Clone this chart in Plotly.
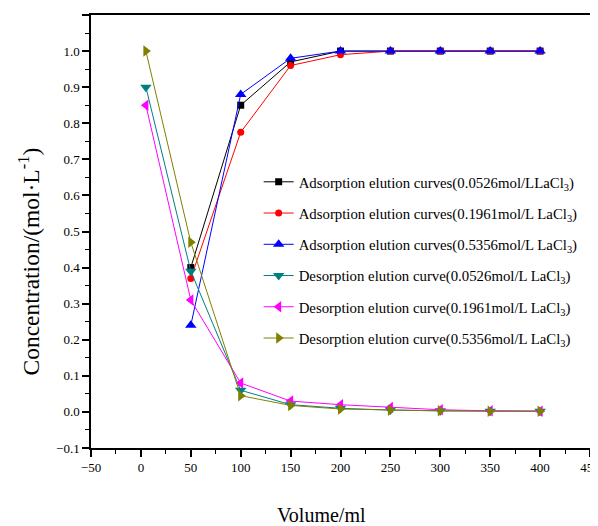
import plotly.graph_objects as go

ads_x = [50, 100, 150, 200, 250, 300, 350, 400]
ads_0526 = [0.40, 0.85, 0.97, 1.00, 1.00, 1.00, 1.00, 1.00]
ads_196 = [0.37, 0.775, 0.96, 0.99, 1.00, 1.00, 1.00, 1.00]
ads_5356 = [0.24, 0.88, 0.98, 1.00, 1.00, 1.00, 1.00, 1.00]

des_x = [5, 50, 100, 150, 200, 250, 300, 350, 400]
des_0526 = [0.90, 0.39, 0.06, 0.02, 0.01, 0.005, 0.003, 0.002, 0.002]
des_196 = [0.85, 0.31, 0.08, 0.03, 0.02, 0.012, 0.006, 0.003, 0.002]
des_5356 = [1.00, 0.47, 0.045, 0.018, 0.008, 0.005, 0.003, 0.002, 0.002]

names = [
    "Adsorption elution curves(0.0526mol/LLaCl<sub>3</sub>)",
    "Adsorption elution curves(0.1961mol/L LaCl<sub>3</sub>)",
    "Adsorption elution curves(0.5356mol/L LaCl<sub>3</sub>)",
    "Desorption elution curve(0.0526mol/L LaCl<sub>3</sub>)",
    "Desorption elution curve(0.1961mol/L LaCl<sub>3</sub>)",
    "Desorption elution curve(0.5356mol/L LaCl<sub>3</sub>)",
]
colors = ["#000000", "#ff0000", "#0000ff", "#008080", "#ff00ff", "#808000"]
symbols = ["square", "circle", "triangle-up", "triangle-down", "triangle-left", "triangle-right"]
sizes = [7, 7, 10, 10, 10, 10]
xs = [ads_x, ads_x, ads_x, des_x, des_x, des_x]
ys = [ads_0526, ads_196, ads_5356, des_0526, des_196, des_5356]

fig = go.Figure()
for i, (n, c, s, sz, x, y) in enumerate(zip(names, colors, symbols, sizes, xs, ys)):
    fig.add_trace(go.Scatter(x=x, y=y, mode="lines+markers", name=n,
                             legendgroup=f"g{i}",
                             line=dict(color=c, width=1),
                             marker=dict(color=c, symbol=s, size=sz)))

font = "Liberation Serif, Times New Roman, serif"
fig.update_layout(
    width=598, height=526,
    margin=dict(l=83, r=16, t=5, b=86),
    paper_bgcolor="white", plot_bgcolor="white",
    font=dict(family=font, color="black", size=12),
    showlegend=True,
    legend=dict(x=0.336, y=0.652, xanchor="left", yanchor="top",
                bgcolor="rgba(0,0,0,0)", font=dict(size=14.8, family=font),
                tracegroupgap=9, itemsizing="trace", itemwidth=30),
    xaxis=dict(range=[-50, 450], tickvals=list(range(-50, 451, 50)),
               showline=True, linecolor="black", linewidth=1.5, mirror=True,
               ticks="outside", ticklen=7, tickwidth=1.5, tickcolor="black",
               minor=dict(ticks="outside", ticklen=4, tickwidth=1.2, dtick=25, tickcolor="black"),
               showgrid=False, zeroline=False,
               tickfont=dict(size=13)),
    yaxis=dict(range=[-0.1, 1.1], tickvals=[round(-0.1 + 0.1 * i, 1) for i in range(13)],
               tickformat=".1f",
               showline=True, linecolor="black", linewidth=1.5, mirror=True,
               ticks="outside", ticklen=7, tickwidth=1.5, tickcolor="black",
               minor=dict(ticks="outside", ticklen=4, tickwidth=1.2, dtick=0.05, tickcolor="black"),
               showgrid=False, zeroline=False,
               tickfont=dict(size=13)),
    annotations=[
        dict(text="Concentration/(mol·L<sup>-1</sup>)", textangle=-90,
             xref="paper", yref="paper", x=-0.124, y=0.431,
             xanchor="center", yanchor="middle", showarrow=False,
             font=dict(size=23.5, family=font)),
        dict(text="Volume/ml",
             xref="paper", yref="paper", x=0.462, y=-0.154,
             xanchor="center", yanchor="middle", showarrow=False,
             font=dict(size=20, family=font)),
    ],
)
fig.write_html("out.html")
